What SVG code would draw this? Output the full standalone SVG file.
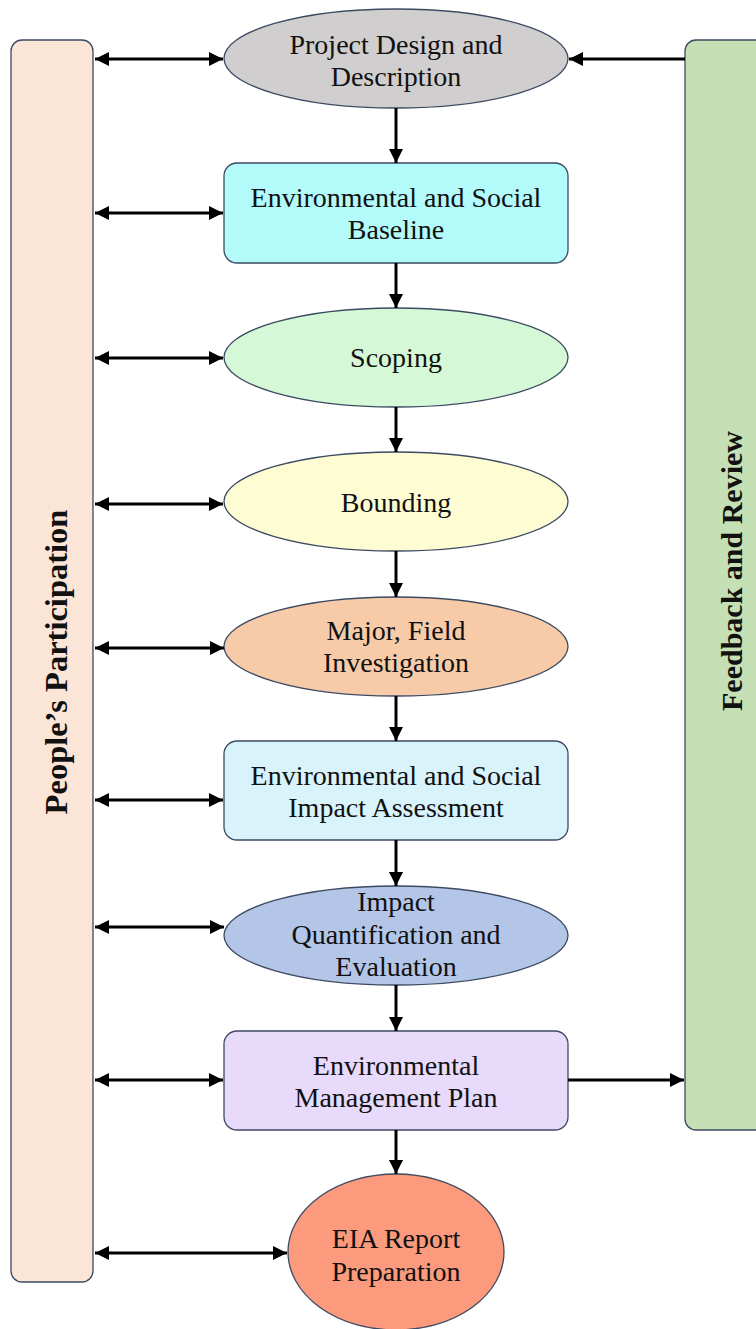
<svg xmlns="http://www.w3.org/2000/svg" width="756" height="1329" viewBox="0 0 756 1329">
<defs>
<marker id="ah" markerUnits="userSpaceOnUse" markerWidth="14" markerHeight="14" refX="12" refY="6" orient="auto-start-reverse" viewBox="0 0 12 12">
<path d="M0,0 L12,6 L0,12 Z" fill="#000"/>
</marker>
</defs>
<style>
.n{stroke:#3c4a62;stroke-width:1.3}
.t{font-family:"Liberation Serif","Times New Roman",serif;font-size:28px;fill:#111;text-anchor:middle}
.b{font-family:"Liberation Serif","Times New Roman",serif;font-weight:bold;fill:#111;text-anchor:middle}
.c{stroke:#000;stroke-width:3;fill:none}
</style>
<rect width="756" height="1329" fill="#fff"/>
<g id="people">
<rect class="n" x="11" y="40" width="82" height="1242" rx="11" fill="#fbe5d6"/>
<text class="b" font-size="32.5" transform="translate(67,662) rotate(-90)">People’s Participation</text>
</g>
<g id="feedback">
<rect class="n" x="685" y="40" width="90" height="1090" rx="11" fill="#c5e0b4"/>
<text class="b" font-size="30" transform="translate(742,571) rotate(-90)">Feedback and Review</text>
</g>
<g id="n1">
<ellipse class="n" cx="396" cy="58.5" rx="172" ry="49.5" fill="#d0cece"/>
<text class="t" x="396" y="54">Project Design and</text>
<text class="t" x="396" y="86">Description</text>
</g>
<g id="n2">
<rect class="n" x="224" y="163" width="344" height="100" rx="13" fill="#b3fbfb"/>
<text class="t" x="396" y="207">Environmental and Social</text>
<text class="t" x="396" y="239">Baseline</text>
</g>
<g id="n3">
<ellipse class="n" cx="396" cy="357.5" rx="172" ry="49.5" fill="#d5f9d6"/>
<text class="t" x="396" y="367">Scoping</text>
</g>
<g id="n4">
<ellipse class="n" cx="396" cy="501.5" rx="172" ry="49.5" fill="#fdfcd3"/>
<text class="t" x="396" y="512">Bounding</text>
</g>
<g id="n5">
<ellipse class="n" cx="396" cy="646.5" rx="172" ry="49.5" fill="#f7cba8"/>
<text class="t" x="396" y="640">Major, Field</text>
<text class="t" x="396" y="672">Investigation</text>
</g>
<g id="n6">
<rect class="n" x="224" y="741" width="344" height="99" rx="13" fill="#d9f3fb"/>
<text class="t" x="396" y="785">Environmental and Social</text>
<text class="t" x="396" y="817">Impact Assessment</text>
</g>
<g id="n7">
<ellipse class="n" cx="396" cy="935.5" rx="172" ry="49.5" fill="#b4c6e7"/>
<text class="t" x="396" y="911">Impact</text>
<text class="t" x="396" y="944">Quantification and</text>
<text class="t" x="396" y="976">Evaluation</text>
</g>
<g id="n8">
<rect class="n" x="224" y="1031" width="344" height="99" rx="13" fill="#e8dafb"/>
<text class="t" x="396" y="1075">Environmental</text>
<text class="t" x="396" y="1107">Management Plan</text>
</g>
<g id="n9">
<ellipse class="n" cx="396" cy="1252" rx="108" ry="78" fill="#fb9a7d"/>
<text class="t" x="396" y="1248">EIA Report</text>
<text class="t" x="396" y="1281">Preparation</text>
</g>
<g id="connectors">
<line class="c" x1="396" y1="108" x2="396" y2="163" marker-end="url(#ah)"/>
<line class="c" x1="396" y1="263" x2="396" y2="308" marker-end="url(#ah)"/>
<line class="c" x1="396" y1="407" x2="396" y2="452" marker-end="url(#ah)"/>
<line class="c" x1="396" y1="551" x2="396" y2="597" marker-end="url(#ah)"/>
<line class="c" x1="396" y1="696" x2="396" y2="741" marker-end="url(#ah)"/>
<line class="c" x1="396" y1="840" x2="396" y2="886" marker-end="url(#ah)"/>
<line class="c" x1="396" y1="985" x2="396" y2="1031" marker-end="url(#ah)"/>
<line class="c" x1="396" y1="1130" x2="396" y2="1174" marker-end="url(#ah)"/>
<line class="c" x1="95" y1="59" x2="223" y2="59" marker-start="url(#ah)" marker-end="url(#ah)"/>
<line class="c" x1="95" y1="213" x2="223" y2="213" marker-start="url(#ah)" marker-end="url(#ah)"/>
<line class="c" x1="95" y1="358" x2="223" y2="358" marker-start="url(#ah)" marker-end="url(#ah)"/>
<line class="c" x1="95" y1="504" x2="223" y2="504" marker-start="url(#ah)" marker-end="url(#ah)"/>
<line class="c" x1="95" y1="648" x2="224" y2="648" marker-start="url(#ah)" marker-end="url(#ah)"/>
<line class="c" x1="95" y1="800" x2="223" y2="800" marker-start="url(#ah)" marker-end="url(#ah)"/>
<line class="c" x1="95" y1="927" x2="224" y2="927" marker-start="url(#ah)" marker-end="url(#ah)"/>
<line class="c" x1="95" y1="1080" x2="223" y2="1080" marker-start="url(#ah)" marker-end="url(#ah)"/>
<line class="c" x1="95" y1="1253" x2="287" y2="1253" marker-start="url(#ah)" marker-end="url(#ah)"/>
<line class="c" x1="685" y1="59" x2="569" y2="59" marker-end="url(#ah)"/>
<line class="c" x1="568" y1="1080" x2="684" y2="1080" marker-end="url(#ah)"/>
</g>
</svg>
